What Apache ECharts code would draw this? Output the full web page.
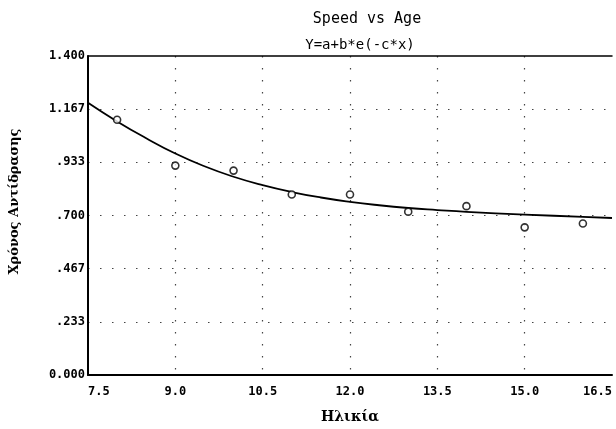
<!DOCTYPE html>
<html>
<head>
<meta charset="utf-8">
<script src="https://cdn.jsdelivr.net/npm/echarts@6/dist/echarts.min.js"></script>
<style>
  html, body { margin: 0; padding: 0; background: #fff; }
  #chart { width: 616px; height: 429px; }
</style>
</head>
<body>
<div id="chart"></div>
<script>
// observed points (age, reaction time)
const ageObs = [8, 9, 10, 11, 12, 13, 14, 15, 16]
const timeObs = [1.12, 0.919, 0.897, 0.792, 0.792, 0.717, 0.741, 0.648, 0.665]

// fitted curve
const ageFit = [7.5, 8, 8.5, 9, 9.5, 10, 10.5, 11, 11.5, 12, 12.5, 13, 13.5, 14, 15, 16, 16.5]
const timeFit = [1.195, 1.113, 1.039, 0.972, 0.916, 0.870, 0.833, 0.803, 0.779, 0.760, 0.745, 0.733, 0.724, 0.716, 0.704, 0.694, 0.689]

const yTicks = ['0.000', '.233', '.467', '.700', '.933', '1.167', '1.400']

const chart = echarts.init(document.getElementById('chart'))

const monoFont = 'DejaVu Sans Mono'
const dotted = { type: [1.5, 10.5], color: '#444', width: 1.2 }

const option = {
  animation: false,
  title: [
    {
      text: 'Speed vs Age',
      left: 362, top: 7, textAlign: 'center',
      textStyle: { fontFamily: monoFont, fontSize: 15, fontWeight: 'normal', color: '#000' }
    },
    {
      text: 'Y=a+b*e(-c*x)',
      left: 355, top: 33, textAlign: 'center',
      textStyle: { fontFamily: monoFont, fontSize: 14, fontWeight: 'normal', color: '#000' }
    }
  ],
  grid: { left: 86, right: 4, top: 56, bottom: 53 },
  xAxis: [
    {
      type: 'value',
      min: 7.5, max: 16.5, interval: 1.5,
      name: 'Ηλικία',
      nameLocation: 'middle',
      nameGap: 35,
      nameTextStyle: { fontFamily: 'DejaVu Serif', fontWeight: 'bold', fontSize: 14, color: '#000' },
      axisLine: { lineStyle: { color: '#000', width: 2 } },
      axisTick: { show: false },
      axisLabel: {
        fontFamily: monoFont, fontWeight: 'bold', fontSize: 12, color: '#000', margin: 11,
        alignMinLabel: 'left', alignMaxLabel: 'right',
        formatter: v => v.toFixed(1)
      },
      splitLine: { show: true, showMinLine: false, showMaxLine: false, lineStyle: dotted }
    },
    {
      type: 'value',
      position: 'top',
      min: 7.5, max: 16.5,
      axisLine: { show: true, lineStyle: { color: '#000', width: 1.5 } },
      axisTick: { show: false },
      axisLabel: { show: false },
      splitLine: { show: false }
    }
  ],
  yAxis: {
    type: 'value',
    min: 0, max: 1.4, interval: 1.4 / 6,
    name: 'Χρόνος Αντίδρασης',
    nameLocation: 'middle',
    nameGap: 67,
    nameTextStyle: { fontFamily: 'DejaVu Serif', fontWeight: 'bold', fontSize: 13, color: '#000', padding: [0, 0, 0, 28] },
    axisLine: { show: true, lineStyle: { color: '#000', width: 2 } },
    axisTick: { show: false },
    axisLabel: {
      fontFamily: monoFont, fontWeight: 'bold', fontSize: 12, color: '#000', margin: 3,
      formatter: (v) => yTicks[Math.round(v / (1.4 / 6))]
    },
    splitLine: { show: true, showMinLine: false, showMaxLine: false, lineStyle: dotted }
  },
  series: [
    {
      type: 'line',
      data: ageFit.map((x, k) => [x, timeFit[k]]),
      smooth: true,
      showSymbol: false,
      lineStyle: { color: '#000', width: 1.8 },
      z: 2
    },
    {
      type: 'scatter',
      data: ageObs.map((x, k) => [x, timeObs[k]]),
      symbol: 'circle',
      symbolSize: 7,
      itemStyle: { color: '#fff', borderColor: '#000', borderWidth: 1.6 },
      z: 3
    }
  ]
}

chart.setOption(option)
</script>
</body>
</html>
